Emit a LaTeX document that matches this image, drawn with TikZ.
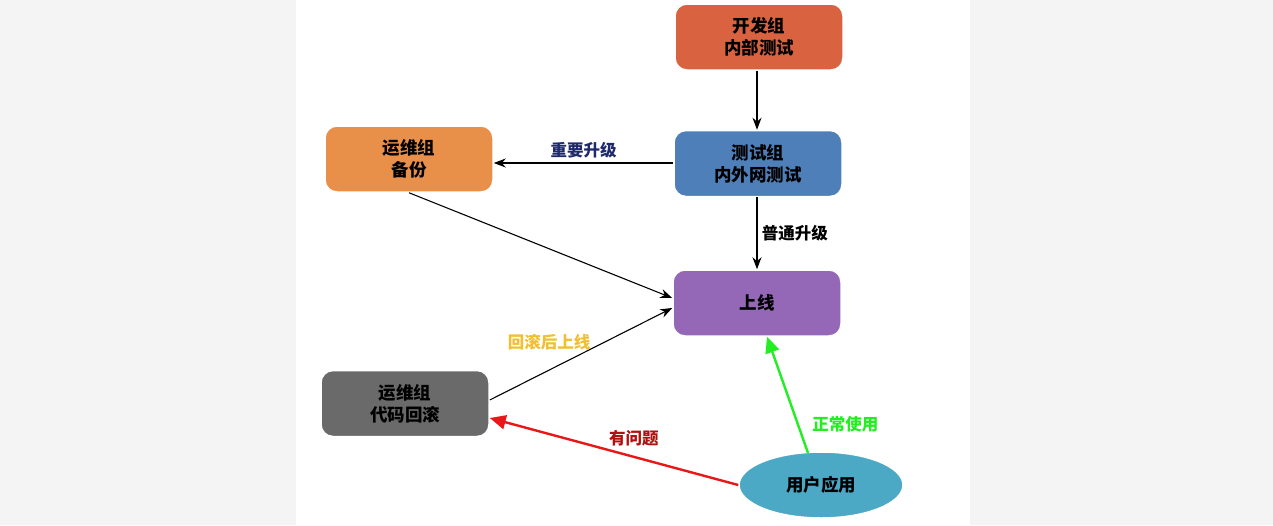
\documentclass[tikz,border=0pt]{standalone}
\usepackage{fontspec}
\setmainfont{Noto Sans CJK SC}
\usetikzlibrary{shapes.geometric,arrows.meta}
\definecolor{bgside}{HTML}{F4F4F4}
\definecolor{cdev}{HTML}{D96240}
\definecolor{ctest}{HTML}{4F7FB9}
\definecolor{cbak}{HTML}{E8904A}
\definecolor{conl}{HTML}{9468B7}
\definecolor{croll}{HTML}{6A6A6A}
\definecolor{cuser}{HTML}{4BA9C5}
\definecolor{cnavy}{HTML}{1F2A6B}
\definecolor{cyel}{HTML}{F0C030}
\definecolor{cred}{HTML}{E81818}
\definecolor{cdred}{HTML}{B01010}
\definecolor{cgreen}{HTML}{22EE22}
\begin{document}
\begin{tikzpicture}[x=1pt,y=-1pt,
  box/.style={draw=white,line width=1.5pt,rounded corners=12pt,minimum width=168pt,minimum height=66pt,align=center,font=\fontsize{17.5}{22}\selectfont\bfseries,text=black},
  conn/.style={line width=1.1pt,-{Stealth[length=12pt,width=9pt]}},
  bigconn/.style={line width=2.4pt,-{Triangle[length=16pt,width=14pt]}},
  lbl/.style={font=\fontsize{16.5}{20}\selectfont\bfseries}]
\useasboundingbox (0,0) rectangle (1273,525);
\fill[bgside] (0,0) rectangle (296,525);
\fill[bgside] (970,0) rectangle (1273,525);
\node[box,fill=cdev] (dev) at (759,37) {开发组\\内部测试};
\node[box,fill=ctest] (test) at (758,163.5) {测试组\\内外网测试};
\node[box,fill=cbak] (bak) at (409,159) {运维组\\备份};
\node[box,fill=conl] (onl) at (757,303) {上线};
\node[box,fill=croll] (roll) at (405,403.5) {运维组\\代码回滚};
\node[ellipse,draw=white,line width=1.5pt,fill=cuser,minimum width=164pt,minimum height=66pt,font=\fontsize{17.5}{22}\selectfont\bfseries] (user) at (821,485) {用户应用};
\draw[conn] (dev.south -| 757,0) -- (test.north -| 757,0);
\draw[conn] (test.west |- 0,163) -- (bak.east |- 0,163) node[lbl,text=cnavy,midway,above=1pt] {重要升级};
\draw[conn] (test.south -| 757,0) -- (onl.north -| 757,0) node[lbl,midway,right=1pt] {普通升级};
\draw[conn] (bak.south) -- (onl.west |- 0,298);
\draw[conn] (roll.east |- 0,400) -- (onl.west |- 0,308);
\node[lbl,text=cyel] (lroll) at (549,342) {回滚后上线};
\draw[bigconn,draw=cred,fill=cred] (user.west) -- (roll.east |- 0,418) node[lbl,text=cdred,pos=0.42,above=6pt] {有问题};
\draw[bigconn,draw=cgreen,fill=cgreen] (808,453) -- (onl.south -| 767,0) node[lbl,text=cgreen,pos=0.25,right=10pt] {正常使用};
\end{tikzpicture}
\end{document}
